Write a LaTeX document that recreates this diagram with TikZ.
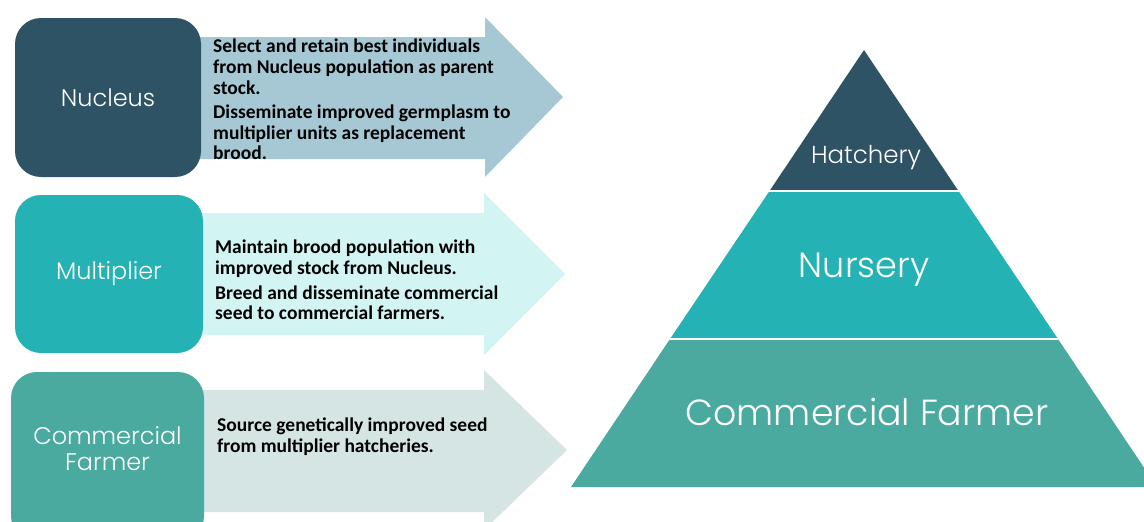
\documentclass[tikz,border=0pt]{standalone}
\usepackage{fontspec}
\setmainfont{Carlito}
\newfontfamily\gothic{Poppins}[UprightFont={* Light}]
\definecolor{nucC}{HTML}{2E5364}
\definecolor{mulC}{HTML}{25B2B4}
\definecolor{farC}{HTML}{4BAA9F}
\definecolor{arrA}{HTML}{A5C8D4}
\definecolor{arrB}{HTML}{D2F5F4}
\definecolor{arrC}{HTML}{D4E5E3}
\tikzset{
  stagebox/.style={rectangle, rounded corners=26pt, inner sep=0pt, text=white,
    align=center, font=\gothic\fontsize{24}{26}\selectfont},
  desc/.style={anchor=north west, inner sep=0pt, align=left, text=black,
    font=\bfseries\fontsize{19.5}{20.6}\selectfont},
  pyrtext/.style={text=white, inner sep=0pt},
}
\begin{document}
\begin{tikzpicture}[x=1pt,y=-1pt]
\path[use as bounding box] (0,0) rectangle (1144,522);
\begin{scope}
\clip (0,0) rectangle (1144,522);
\fill[white] (0,0) rectangle (1144,522);
% arrows
\fill[arrA] (190,37) -- (485,37) -- (485,17) -- (563,97) -- (485,177) -- (485,159) -- (190,159) -- cycle;
\fill[arrB] (190,213) -- (484,213) -- (484,193) -- (565,274) -- (484,355) -- (484,335) -- (190,335) -- cycle;
\fill[arrC] (190,390) -- (484,390) -- (484,370) -- (567,450) -- (484,530) -- (484,512) -- (190,512) -- cycle;
% boxes
\node[stagebox, fill=nucC, minimum width=186pt, minimum height=159pt] (nuc) at (108,97.5) {Nucleus};
\node[stagebox, fill=mulC, minimum width=188pt, minimum height=158pt] (mul) at (109,274) {Multiplier};
\node[stagebox, fill=farC, minimum width=193pt, minimum height=170pt] (far) at (107.5,457) {};
\node[pyrtext, align=center, font=\gothic\fontsize{24}{26}\selectfont] (fartext) at (107.5,449) {Commercial\\Farmer};
% descriptions
\node[desc] (d1) at (213,39) {Select and retain best individuals\\from Nucleus population as parent\\stock.\\[4pt]Disseminate improved germplasm to\\multiplier units as replacement\\brood.};
\node[desc] (d2) at (215,240) {Maintain brood population with\\improved stock from Nucleus.\\[4pt]Breed and disseminate commercial\\seed to commercial farmers.};
\node[desc] (d3) at (217,417.5) {Source genetically improved seed\\from multiplier hatcheries.};
% pyramid
\fill[farC] (670,339) -- (1058,339) -- (1157,487) -- (571,487) -- cycle;
\fill[mulC] (769.5,191) -- (958.5,191) -- (1058,339) -- (670,339) -- cycle;
\fill[nucC] (864,50) -- (958.5,191) -- (769.5,191) -- cycle;
\draw[white, line width=2pt] (760,191) -- (970,191);
\draw[white, line width=2pt] (660,339) -- (1070,339);
\node[pyrtext, font=\gothic\fontsize{24.5}{26}\selectfont] (hat) at (866,158) {Hatchery};
\node[pyrtext, font=\gothic\fontsize{35}{40}\selectfont] (nur) at (864,270) {Nursery};
\node[pyrtext, font=\gothic\fontsize{36.3}{40}\selectfont] (com) at (867,412) {Commercial Farmer};
\end{scope}
\end{tikzpicture}
\end{document}
